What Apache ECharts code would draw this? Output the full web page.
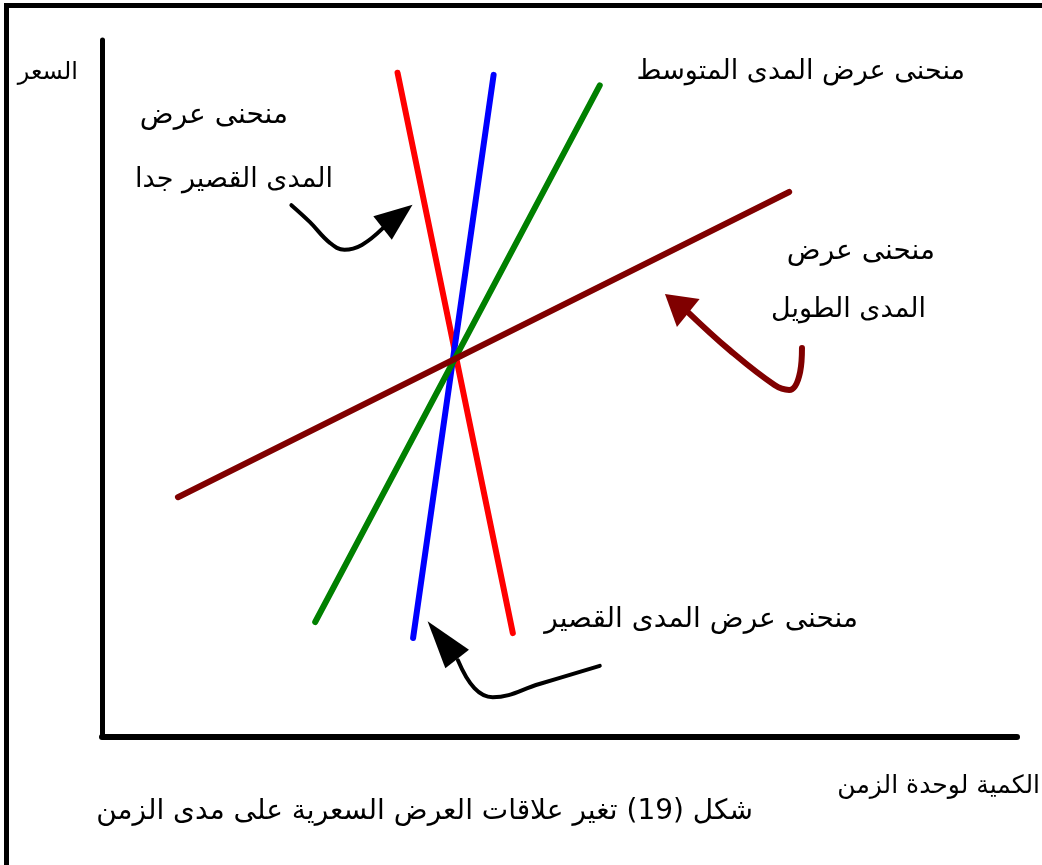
<!DOCTYPE html>
<html>
<head>
<meta charset="utf-8">
<script src="https://cdn.jsdelivr.net/npm/echarts@6/dist/echarts.min.js"></script>
<style>
html,body{margin:0;padding:0;background:#fff;}
#chart{width:1042px;height:865px;}
</style>
</head>
<body>
<div id="chart"></div>
<script>
// Supply curves (quantity per unit time, price) in axis units 0..100
const veryShortRun = [[32.3, 95.3], [44.9, 14.9]];   // red
const shortRun     = [[42.8, 95.0], [34.0, 14.2]];   // blue
const mediumRun    = [[54.4, 93.5], [23.3, 16.5]];   // green
const longRun      = [[75.1, 78.2], [8.3, 34.4]];    // maroon

// Curved annotation arrows (paths) and arrowheads
const arrowVeryShort = [[20.7, 76.3], [22.7, 73.9], [24.9, 70.9], [26.5, 69.9], [28.4, 70.6], [30.7, 73.0]];
const arrowShort     = [[54.4, 10.2], [47.8, 7.6], [42.7, 5.7], [40.7, 7.0], [38.9, 11.0]];
const arrowLong      = [[76.5, 55.8], [76.3, 52.4], [75.1, 49.8], [73.5, 50.5], [68.6, 55.5], [64.0, 61.0]];
const headVeryShort  = [32.3, 74.7];
const headShort      = [37.2, 13.9];
const headLong       = [62.8, 62.2];

// Texts
const yAxisName = 'السعر';
const xAxisName = 'الكمية لوحدة الزمن';
const caption = 'شكل (19) تغير علاقات العرض السعرية على مدى الزمن';
const labelMedium = 'منحنى عرض المدى المتوسط';
const labelVeryShort = ['منحنى عرض', 'المدى القصير جدا'];
const labelLong = ['منحنى عرض', 'المدى الطويل'];
const labelShort = 'منحنى عرض المدى القصير';

const FONT = '"DejaVu Sans", sans-serif';
const chart = echarts.init(document.getElementById('chart'));

function curve(data, color) {
  return {type:'line', data:data, symbol:'none', silent:true,
    lineStyle:{color:color, width:6, cap:'round'}, z:2};
}
function arrowPath(data, color, w) {
  return {type:'line', data:data, symbol:'none', smooth:0.4, silent:true,
    lineStyle:{color:color, width:w, cap:'round', join:'round'}, z:3};
}
function head(pt, color, rot, size) {
  return {type:'scatter', data:[pt], symbol:'triangle', symbolSize:size,
    symbolRotate:rot, itemStyle:{color:color, opacity:1}, silent:true, z:4};
}
function txt(s, x, y, size) {
  return {type:'text', z:10, style:{text:s, x:x, y:y, align:'right', verticalAlign:'middle',
    fontSize:size, fontFamily:FONT, fill:'#000'}};
}

chart.setOption({
  animation:false,
  backgroundColor:'#fff',
  grid:{left:102, top:40, right:25, bottom:128},
  xAxis:{type:'value', min:0, max:100, splitLine:{show:false}, axisTick:{show:false}, axisLabel:{show:false},
    axisLine:{lineStyle:{color:'#000', width:6, cap:'round'}}},
  yAxis:{type:'value', min:0, max:100, splitLine:{show:false}, axisTick:{show:false}, axisLabel:{show:false},
    axisLine:{lineStyle:{color:'#000', width:5, cap:'round'}}},
  series:[
    curve(veryShortRun, '#ff0000'),
    curve(shortRun, '#0000ff'),
    curve(mediumRun, '#008000'),
    curve(longRun, '#800000'),
    arrowPath(arrowVeryShort, '#000', 4),
    arrowPath(arrowShort, '#000', 4),
    arrowPath(arrowLong, '#800000', 6),
    head(headVeryShort, '#000', -52, [30, 38]),
    head(headShort, '#000', 38, [30, 48]),
    head(headLong, '#800000', 51, [36, 30])
  ],
  graphic:[
    {type:'rect', shape:{x:4, y:3, width:1038, height:5}, style:{fill:'#000'}},
    {type:'rect', shape:{x:4, y:3, width:5, height:862}, style:{fill:'#000'}},
    txt(yAxisName, 78, 73, 24),
    txt(labelVeryShort[0], 288, 116, 28),
    txt(labelVeryShort[1], 333, 180, 27),
    txt(labelMedium, 965, 72, 27),
    txt(labelLong[0], 935, 252, 28),
    txt(labelLong[1], 926, 310, 27),
    txt(labelShort, 858, 620, 28),
    txt(xAxisName, 1040, 786, 25),
    txt(caption, 753, 812, 28)
  ]
});
</script>
</body>
</html>
